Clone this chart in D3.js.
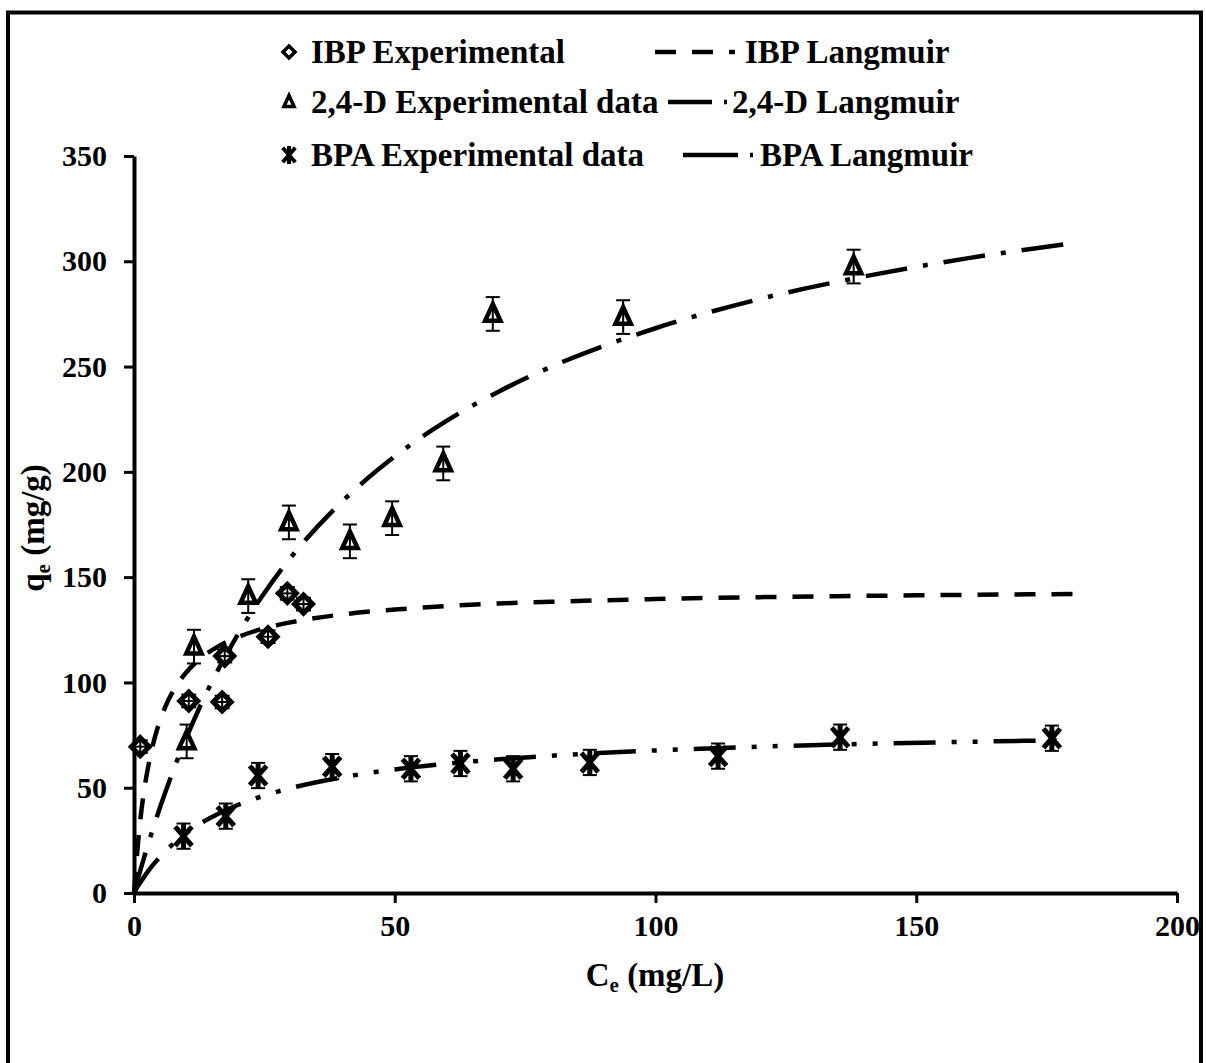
<!DOCTYPE html>
<html>
<head>
<meta charset="utf-8">
<script src="https://cdn.jsdelivr.net/npm/d3@7"></script>
<style>
  html, body { margin: 0; padding: 0; background: #fff; }
  svg { display: block; }
  text { font-family: "Liberation Serif", "Times New Roman", serif; font-weight: bold; fill: #000; }
</style>
</head>
<body>
<svg id="chart" width="1206" height="1063"></svg>
<script>
// ---- Experimental equilibrium data (Ce in mg/L, qe in mg/g) ----
const ibpCe   = [1.2, 10.5, 16.9, 17.4, 25.7, 29.4, 32.5];
const ibpQe   = [69.5, 91.2, 90.7, 112.5, 121.7, 142.3, 137.2];
const ibpErr  = [3, 3, 3, 3, 3, 3, 3];

const d24Ce   = [10.1, 11.5, 21.9, 29.7, 41.4, 49.5, 59.3, 68.8, 93.8, 138];
const d24Qe   = [72, 117, 141, 176, 167, 178, 204, 275, 273.5, 297.5];
const d24Err  = [8, 8, 8, 8, 8, 8, 8, 8, 8, 8];

const bpaCe   = [9.5, 17.6, 23.8, 38, 53.1, 62.6, 72.7, 87.4, 112, 135.4, 176];
const bpaQe   = [27, 36.5, 55.8, 60, 59, 61.5, 59, 62, 65, 74, 73.5];
const bpaErr  = [6, 6, 6, 6, 6, 6, 6, 6, 6, 6, 6];

// ---- Langmuir model curves, sampled along Ce ----
const fitCe      = [0, 1, 2, 3, 4, 6, 8, 10, 13, 16, 20, 25, 30, 40, 50, 60, 70, 80, 100, 120, 140, 160, 180];
const ibpFitQe   = [0, 29.9, 49.6, 63.5, 73.9, 88.4, 97.9, 104.7, 111.9, 116.9, 121.6, 125.7, 128.5, 132.3, 134.6, 136.3, 137.5, 138.3, 139.6, 140.5, 141.1, 141.6, 142.0];
const d24FitQe   = [0, 8.9, 17.4, 25.5, 33.3, 47.8, 61.2, 73.5, 90.4, 105.4, 123.2, 142.5, 159.1, 186.1, 207.3, 224.3, 238.2, 249.9, 268.2, 282.1, 292.8, 301.5, 308.6];
const bpaFitCe   = [0, 1, 2, 3, 4, 6, 8, 10, 13, 16, 20, 25, 30, 40, 50, 60, 70, 80, 100, 120, 140, 160, 177];
const bpaFitQe   = [0, 4.2, 7.9, 11.3, 14.4, 19.8, 24.4, 28.4, 33.4, 37.4, 41.9, 46.3, 49.8, 55.0, 58.7, 61.4, 63.5, 65.2, 67.7, 69.5, 70.8, 71.8, 72.5];

// ---- Axis ticks and labels ----
const xTicks = [0, 50, 100, 150, 200];
const yTicks = [0, 50, 100, 150, 200, 250, 300, 350];
const legendLeft  = ["IBP Experimental", "2,4-D Experimental data", "BPA Experimental data"];
const legendRight = ["IBP Langmuir", "2,4-D Langmuir", "BPA Langmuir"];

const svg = d3.select("#chart");

// outer frame
svg.append("rect")
  .attr("x", 8).attr("y", 12.5)
  .attr("width", 1193).attr("height", 1100)
  .attr("fill", "none").attr("stroke", "#000").attr("stroke-width", 4);

const x = d3.scaleLinear().domain([0, 200]).range([134, 1177]);
const y = d3.scaleLinear().domain([0, 350]).range([893, 156]);

// axes
const xAxis = svg.append("g").attr("transform", `translate(0,${y(0)})`)
  .call(d3.axisBottom(x).tickValues(xTicks).tickSize(10).tickSizeOuter(0).tickPadding(12));
const yAxis = svg.append("g").attr("transform", `translate(${x(0)},0)`)
  .call(d3.axisLeft(y).tickValues(yTicks).tickSize(10).tickSizeOuter(0).tickPadding(17));

[xAxis, yAxis].forEach(g => {
  g.select(".domain").attr("stroke", "#000").attr("stroke-width", 4);
  g.selectAll(".tick line").attr("stroke", "#000").attr("stroke-width", 3);
  g.selectAll(".tick text")
    .attr("font-family", "Liberation Serif, Times New Roman, serif")
    .attr("font-weight", "bold").attr("font-size", 30).attr("fill", "#000");
});

// axis titles
const xt = svg.append("text").attr("x", 655).attr("y", 986)
  .attr("text-anchor", "middle").attr("font-size", 33);
xt.append("tspan").text("C");
xt.append("tspan").attr("font-size", 21).attr("dy", 6).text("e");
xt.append("tspan").attr("dy", -6).text(" (mg/L)");

const yt = svg.append("text")
  .attr("transform", "translate(44,528) rotate(-90)")
  .attr("text-anchor", "middle").attr("font-size", 33);
yt.append("tspan").text("q");
yt.append("tspan").attr("font-size", 21).attr("dy", 6).text("e");
yt.append("tspan").attr("dy", -6).text(" (mg/g)");

// model curves
const dashes = {
  ibp: "21 16",
  d24: "42 16 5 16",
  bpa: "42 16 5 16 5 16"
};
const line = d3.line().x(d => x(d[0])).y(d => y(d[1])).curve(d3.curveMonotoneX);
const curves = [
  { xs: fitCe, ys: ibpFitQe, dash: dashes.ibp },
  { xs: fitCe, ys: d24FitQe, dash: dashes.d24 },
  { xs: bpaFitCe, ys: bpaFitQe, dash: dashes.bpa }
];
curves.forEach(c => {
  svg.append("path")
    .datum(c.xs.map((v, i) => [v, c.ys[i]]))
    .attr("d", line)
    .attr("fill", "none").attr("stroke", "#000")
    .attr("stroke-width", 4.5).attr("stroke-dasharray", c.dash);
});

// marker shapes
function diamond(g, s, w) {
  g.append("path").attr("d", `M0,${-s}L${s},0L0,${s}L${-s},0Z`)
    .attr("fill", "#fff").attr("stroke", "#000").attr("stroke-width", w);
}
function triangle(g, s, w) {
  g.append("path").attr("d", `M0,${-s * 1.1}L${s * 0.85},${s * 0.75}L${-s * 0.85},${s * 0.75}Z`)
    .attr("fill", "#fff").attr("stroke", "#000").attr("stroke-width", w);
}
function asterisk(g, s, w) {
  g.append("path")
    .attr("d", `M${-s * 0.7},${-s * 0.8}L${s * 0.7},${s * 0.8}M${s * 0.7},${-s * 0.8}L${-s * 0.7},${s * 0.8}M0,${-s}L0,${s}`)
    .attr("fill", "none").attr("stroke", "#000").attr("stroke-width", w);
}

// experimental points with error bars
function drawSeries(cs, qs, errs, shape, size, sw, capW, cross) {
  const g = svg.append("g");
  cs.forEach((c, i) => {
    const cx = x(c), cy = y(qs[i]);
    const top = y(qs[i] + errs[i]), bot = y(qs[i] - errs[i]);
    const p = g.append("g").attr("transform", `translate(${cx},${cy})`);
    shape(p, size, sw);
    const e = g.append("g").attr("stroke", "#000").attr("stroke-width", 2);
    e.append("line").attr("x1", cx).attr("x2", cx).attr("y1", top).attr("y2", bot);
    e.append("line").attr("x1", cx - capW / 2).attr("x2", cx + capW / 2).attr("y1", top).attr("y2", top);
    e.append("line").attr("x1", cx - capW / 2).attr("x2", cx + capW / 2).attr("y1", bot).attr("y2", bot);
    if (cross) {
      e.append("line").attr("x1", cx - size).attr("x2", cx + size).attr("y1", cy).attr("y2", cy);
    }
  });
}
drawSeries(ibpCe, ibpQe, ibpErr, diamond, 9, 5, 15, true);
drawSeries(d24Ce, d24Qe, d24Err, triangle, 9, 4.5, 14, false);
drawSeries(bpaCe, bpaQe, bpaErr, asterisk, 12, 5, 14, false);

// legend
const rowsY = [52, 102, 155];
const legendShapes = [diamond, triangle, asterisk];
const legendSize = [6, 6, 9];
const legendWidth = [3.5, 3.5, 4];
const legendDash = [dashes.ibp, "44 12 5 100", "55 12 5 100"];
const sampleX = [[655, 735], [668, 727], [683, 753]];
const rightTextX = [745, 732, 760];
rowsY.forEach((ry, i) => {
  const m = svg.append("g").attr("transform", `translate(289,${ry})`);
  legendShapes[i](m, legendSize[i], legendWidth[i]);
  svg.append("text").attr("x", 311).attr("y", ry + 11).attr("font-size", 33).text(legendLeft[i]);
  svg.append("line")
    .attr("x1", sampleX[i][0]).attr("x2", sampleX[i][1]).attr("y1", ry).attr("y2", ry)
    .attr("stroke", "#000").attr("stroke-width", 4.5).attr("stroke-dasharray", legendDash[i]);
  svg.append("text").attr("x", rightTextX[i]).attr("y", ry + 11).attr("font-size", 33).text(legendRight[i]);
});
</script>
</body>
</html>
